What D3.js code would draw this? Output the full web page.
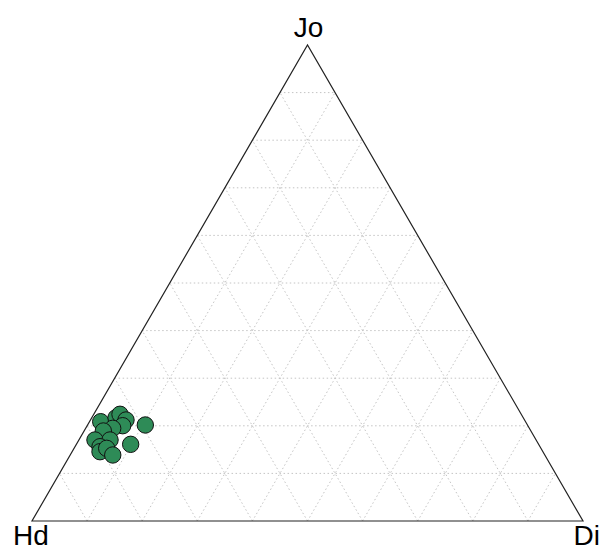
<!DOCTYPE html>
<html>
<head>
<meta charset="utf-8">
<script src="https://cdn.jsdelivr.net/npm/d3@7"></script>
<style>
html,body{margin:0;padding:0;background:#fff;}
svg{display:block;}
</style>
</head>
<body>
<script>
// Ternary data: fractions of Jo (top), Di (right), Hd (left)
const joVals = [0.2086, 0.2170, 0.2242, 0.2122, 0.2002, 0.1947, 0.1891, 0.1702, 0.1702, 0.1561, 0.1456, 0.1527, 0.1387, 0.1611, 0.2017];
const diVals = [0.0204, 0.0440, 0.0476, 0.0645, 0.0645, 0.0491, 0.0349, 0.0292, 0.0565, 0.0454, 0.0506, 0.0592, 0.0772, 0.0985, 0.1048];
const hdVals = joVals.map((j, i) => 1 - j - diVals[i]);
const gridTicks = [0.1, 0.2, 0.3, 0.4, 0.5, 0.6, 0.7, 0.8, 0.9];
const vertexLabels = ["Hd", "Di", "Jo"];

const W = 602, H = 551;
const svg = d3.select("body").append("svg").attr("width", W).attr("height", H);

const xS = d3.scaleLinear().domain([0, 1]).range([32, 583]);
const yS = d3.scaleLinear().domain([0, 1]).range([521, 45]);
function proj(hd, di, jo) {
  return [xS(di + jo / 2), yS(jo)];
}

const g = svg.append("g");
const line = d3.line();

gridTicks.forEach(t => {
  const segs = [
    [proj(1 - t, 0, t), proj(0, 1 - t, t)],
    [proj(1 - t, t, 0), proj(0, t, 1 - t)],
    [proj(t, 1 - t, 0), proj(t, 0, 1 - t)]
  ];
  segs.forEach(s => {
    g.append("path").attr("d", line(s))
      .attr("fill", "none").attr("stroke", "#c4c4c4")
      .attr("stroke-width", 1).attr("stroke-dasharray", "1.5,2.5");
  });
});

const A = proj(1, 0, 0), B = proj(0, 1, 0), C = proj(0, 0, 1);
g.append("path").attr("d", line([A, B, C]) + "Z")
  .attr("fill", "none").attr("stroke", "#222").attr("stroke-width", 1.2);

g.selectAll("circle.pt").data(joVals.map((j, i) => [hdVals[i], diVals[i], j]))
  .enter().append("circle").attr("class", "pt")
  .attr("cx", d => proj(d[0], d[1], d[2])[0])
  .attr("cy", d => proj(d[0], d[1], d[2])[1])
  .attr("r", 8.2)
  .attr("fill", "#2e8b57").attr("stroke", "#111").attr("stroke-width", 1);

const font = "Liberation Sans, Arial, sans-serif";
svg.append("text").text(vertexLabels[2]).attr("x", C[0] + 1).attr("y", 37)
  .attr("text-anchor", "middle").attr("font-family", font).attr("font-size", 28).attr("fill", "#000");
svg.append("text").text(vertexLabels[0]).attr("x", A[0] - 1).attr("y", 545)
  .attr("text-anchor", "middle").attr("font-family", font).attr("font-size", 28).attr("fill", "#000");
svg.append("text").text(vertexLabels[1]).attr("x", 600).attr("y", 545)
  .attr("text-anchor", "end").attr("font-family", font).attr("font-size", 28).attr("fill", "#000");
</script>
</body>
</html>
